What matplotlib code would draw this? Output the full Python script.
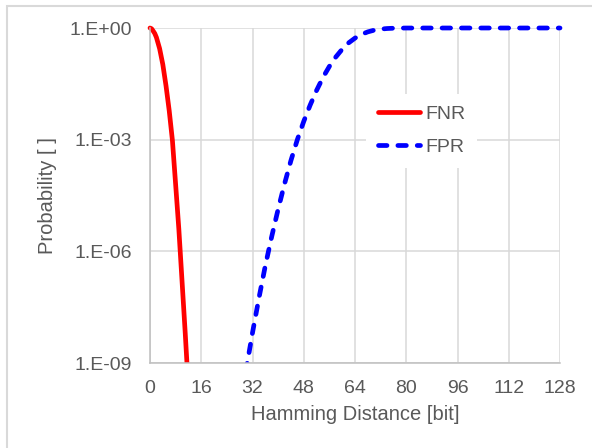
import matplotlib
matplotlib.use('Agg')
from matplotlib import pyplot as plt
from matplotlib.patches import Rectangle
from matplotlib.ticker import NullLocator

plt.rcParams['font.family'] = ['Liberation Sans', 'DejaVu Sans']

# FNR: drops off fast right after 0
fnr_x = [0, 0.5, 1, 1.5, 2, 3, 4, 5, 6, 7, 8, 9, 10, 11, 12]
fnr_y = [1.0, 0.955, 0.83, 0.71, 0.56, 0.28, 0.105, 0.028, 6.0e-3, 9.5e-4,
         6.3e-5, 4.0e-6, 1.6e-7, 6.3e-9, 2.0e-10]

# FPR: rises from ~30 bits up to 1 at ~75 bits
fpr_x = [28, 30, 32, 34, 36, 38, 40, 42, 44, 46, 48, 50, 52, 54, 56, 58, 60,
         62, 64, 66, 68, 70, 72, 74, 76, 80, 96, 112, 128]
fpr_y = [5.5e-11, 6.6e-10, 6.5e-9, 5.5e-8, 4.1e-7, 2.5e-6, 1.35e-5, 6.5e-5,
         2.75e-4, 1.0e-3, 3.1e-3, 8.5e-3, 0.021, 0.047, 0.093, 0.166, 0.269,
         0.398, 0.535, 0.672, 0.787, 0.875, 0.934, 0.968, 0.986, 0.9986,
         1.0, 1.0, 1.0]

x_ticks = [0, 16, 32, 48, 64, 80, 96, 112, 128]
y_ticks = [1e-9, 1e-6, 1e-3, 1.0]
y_labels = ['1.E-09', '1.E-06', '1.E-03', '1.E+00']

txt_color = '#595959'

fig = plt.figure(figsize=(5.92, 4.48), dpi=100)
ax = fig.add_axes([150 / 592, 1 - 363 / 448, 410 / 592, 335 / 448])

# clip only at the bottom (Excel style), let the lines overhang top/left
clip = Rectangle((-0.03, 0), 1.06, 1.06, transform=ax.transAxes)

l1, = ax.plot(fnr_x, fnr_y, color='#ff0000', lw=3.4, label='FNR',
              solid_capstyle='round')
l2, = ax.plot(fpr_x, fpr_y, color='#0000ff', lw=3.4, label='FPR',
              ls=(0, (1.8, 2.3)), dash_capstyle='round')
l1.set_clip_path(clip)
l2.set_clip_path(clip)

ax.set_yscale('log')
ax.set_xlim(0, 128)
ax.set_ylim(1e-9, 1)
ax.set_xticks(x_ticks)
ax.set_yticks(y_ticks)
ax.set_yticklabels(y_labels)
ax.yaxis.set_minor_locator(NullLocator())

ax.grid(True, color='#d9d9d9', lw=1.1)
ax.set_axisbelow(True)
for s in ['top', 'right']:
    ax.spines[s].set_visible(False)
for s in ['left', 'bottom']:
    ax.spines[s].set_color('#bfbfbf')
    ax.spines[s].set_linewidth(1.1)

ax.tick_params(axis='both', length=0, labelsize=14, colors=txt_color)
ax.tick_params(axis='y', pad=13)
ax.tick_params(axis='x', pad=12)

ax.set_xlabel('Hamming Distance [bit]', fontsize=14.5, color=txt_color, labelpad=6)
ax.set_ylabel('Probability [ ]', fontsize=14.5, color=txt_color, labelpad=9)

leg = ax.legend(loc='center', bbox_to_anchor=(0.662, 0.693), fontsize=14,
                frameon=True, framealpha=1, edgecolor='none', fancybox=False,
                handlelength=2.2, handletextpad=0.25, labelspacing=0.8,
                borderpad=0.6)
for t in leg.get_texts():
    t.set_color(txt_color)

fig.patches.append(Rectangle((7 / 592, -0.05), 1.0, 442 / 448 + 0.05,
                             transform=fig.transFigure, fill=False,
                             edgecolor='#d9d9d9', lw=1.5))

fig.savefig('out.png', dpi=100)
